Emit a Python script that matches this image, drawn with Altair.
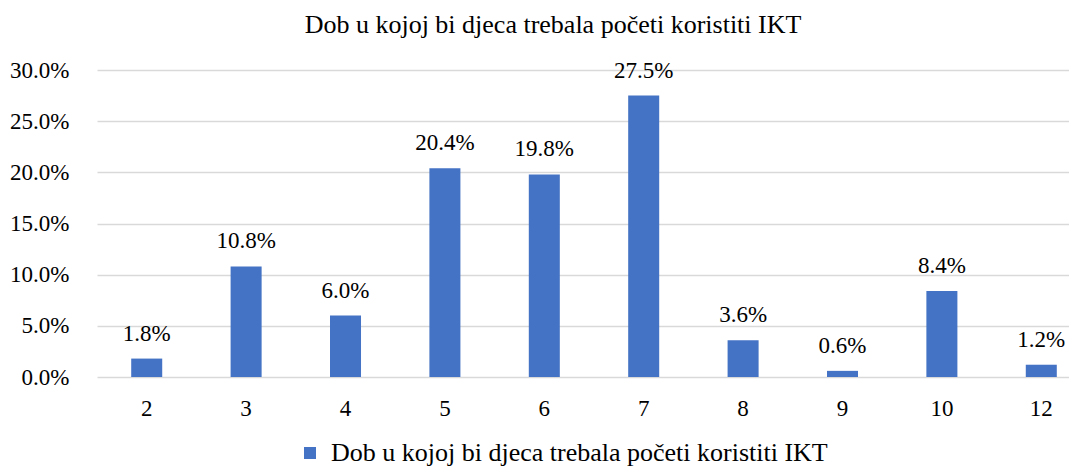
import altair as alt
import pandas as pd

ages = ["2", "3", "4", "5", "6", "7", "8", "9", "10", "12"]
values = [0.018, 0.108, 0.060, 0.204, 0.198, 0.275, 0.036, 0.006, 0.084, 0.012]
series = "Dob u kojoj bi djeca trebala početi koristiti IKT"
title = "Dob u kojoj bi djeca trebala početi koristiti IKT"

df = pd.DataFrame({"age": ages, "value": values, "series": series})

FONT = "Liberation Serif, Times New Roman, serif"
FS_NUM = 23
FS_TXT = 26

base = alt.Chart(df).encode(
    x=alt.X("age:N", sort=ages, title=None,
            scale=alt.Scale(paddingInner=0.688, paddingOuter=0.2335, align=0.737),
            axis=alt.Axis(labelAngle=0, labelFontSize=FS_NUM, labelFont=FONT, labelColor="#000000",
                          ticks=False, domain=False, labelPadding=31, labelBaseline="middle")),
    y=alt.Y("value:Q", title=None,
            scale=alt.Scale(domain=[0, 0.30]),
            axis=alt.Axis(format=".1%", values=[0, 0.05, 0.10, 0.15, 0.20, 0.25, 0.30],
                          labelFontSize=FS_NUM, labelFont=FONT, labelColor="#000000",
                          ticks=False, domain=False, labelPadding=28,
                          gridColor="#d9d9d9", gridWidth=1.5)),
)

bars = base.mark_bar(color="#4472C4").encode(
    color=alt.Color("series:N", scale=alt.Scale(range=["#4472C4"]),
                    legend=alt.Legend(title=None, orient="none", legendX=200, legendY=370,
                                      symbolType="square", symbolSize=144,
                                      labelFontSize=FS_TXT, labelFont=FONT, labelColor="#000000",
                                      labelLimit=900, symbolStrokeWidth=0, labelOffset=8))
)

labels = base.mark_text(baseline="alphabetic", dy=-18, fontSize=FS_NUM, font=FONT, color="#000000").encode(
    text=alt.Text("value:Q", format=".1%")
)

chart = alt.layer(bars, labels).properties(
    width=972, height=307,
    title=alt.TitleParams(title, fontSize=FS_TXT, font=FONT, fontWeight="normal", color="#000000",
                          anchor="middle", frame="group", dx=-30, baseline="alphabetic", offset=0),
    autosize=alt.AutoSizeParams(type="none"),
    padding={"left": 89, "top": 62, "right": 0, "bottom": 90},
).configure_view(stroke=None)

chart.save("out.html", embed_options={"renderer": "svg", "actions": False})
